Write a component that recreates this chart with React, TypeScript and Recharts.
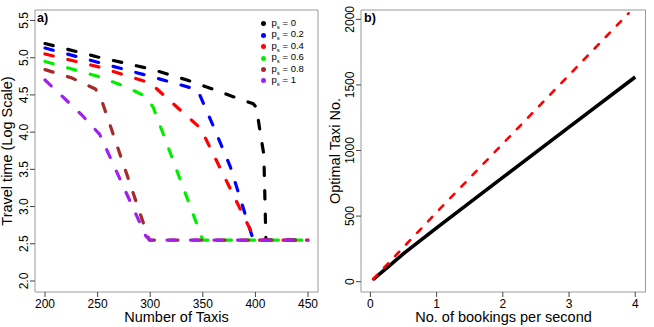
import { LineChart, Line, XAxis, YAxis, ReferenceArea } from 'recharts'

// panel a) travel time vs number of taxis, one series per p_s
const psLabels = ['0', '0.2', '0.4', '0.6', '0.8', '1']
const psColors = ['#000000', '#0000ff', '#ff0000', '#00ee00', '#a52a2a', '#a020f0']

const taxisP0 = [200, 250, 300, 335, 357, 380, 398, 401, 404, 408, 410, 450]
const timeP0 = [5.19, 5.01, 4.85, 4.7, 4.59, 4.47, 4.38, 4.33, 4.05, 3.7, 2.55, 2.55]
const taxisP02 = [200, 250, 300, 345, 360, 376, 398, 450]
const timeP02 = [5.13, 4.94, 4.75, 4.57, 4.08, 3.54, 2.55, 2.55]
const taxisP04 = [200, 250, 300, 348, 400, 450]
const timeP04 = [5.05, 4.88, 4.66, 4.05, 2.55, 2.55]
const taxisP06 = [200, 250, 275, 296, 303, 350, 450]
const timeP06 = [4.95, 4.75, 4.62, 4.48, 4.33, 2.55, 2.55]
const taxisP08 = [200, 225, 248, 255, 299, 450]
const timeP08 = [4.84, 4.73, 4.58, 4.38, 2.55, 2.55]
const taxisP1 = [200, 218, 235, 252, 296, 300, 450]
const timeP1 = [4.7, 4.46, 4.23, 3.97, 2.6, 2.55, 2.55]

const taxiTicks = [200, 250, 300, 350, 400, 450]
const timeTicks = [2, 2.5, 3, 3.5, 4, 4.5, 5, 5.5]

// panel b) optimal taxi number vs bookings rate
const bookingRate = [0.04, 0.1, 0.25, 0.5, 1, 2, 3, 4]
const optimalTaxis = [15, 42, 105, 214, 410, 795, 1178, 1560]
const bookingRateAlt = [0.04, 1, 2, 3, 3.9]
const optimalTaxisAlt = [18, 529, 1052, 1575, 2046]

const rateTicks = [0, 1, 2, 3, 4]
const taxiNoTicks = [0, 500, 1000, 1500, 2000]

const zip = (xs: number[], ys: number[]) => xs.map((x, i) => ({ x, y: ys[i] }))

const seriesA = [
  zip(taxisP0, timeP0),
  zip(taxisP02, timeP02),
  zip(taxisP04, timeP04),
  zip(taxisP06, timeP06),
  zip(taxisP08, timeP08),
  zip(taxisP1, timeP1),
]

const FONT = '"Liberation Sans", Arial, Helvetica, sans-serif'

const RotTick = (props: any) => {
  const { x, y, payload, fmt } = props
  return (
    <text x={x} y={y} transform={`rotate(-90 ${x} ${y})`} textAnchor="middle"
      fontSize={12} fill="#000" fontFamily={FONT}>
      {fmt(payload.value)}
    </text>
  )
}

// legend drawn outside the chart so it doesn't eat into the plot area
const PsLegend = () => (
  <div style={{ position: 'absolute', left: 260.5, top: 18.3, fontFamily: FONT, fontSize: 9.5, color: '#000', lineHeight: 1 }}>
    {psLabels.map((lab, i) => (
      <div key={lab} style={{ display: 'flex', alignItems: 'center', height: 11.4 }}>
        <div style={{ width: 5, height: 5, borderRadius: '50%', background: psColors[i], marginRight: 6 }} />
        <span>p<sub style={{ fontSize: 6 }}>s</sub> = {lab}</span>
      </div>
    ))}
  </div>
)

const tickLine = { stroke: '#444' }
const tickStyle = { fontSize: 12, fill: '#000', fontFamily: FONT }

export default function App() {
  return (
    <div style={{ position: 'absolute', left: 0, top: 0, width: 654, height: 327, background: '#fff' }}>
      <div style={{ position: 'absolute', left: 0, top: 0 }}>
        <LineChart width={330} height={327} margin={{ top: 10, right: 12, left: 0, bottom: 0 }}>
          <XAxis type="number" dataKey="x" domain={[190.5, 459.5]} ticks={taxiTicks} allowDataOverflow
            axisLine={false} tickLine={tickLine} tickSize={5} height={35} tick={tickStyle} />
          <YAxis type="number" dataKey="y" domain={[1.852, 5.641]} ticks={timeTicks} allowDataOverflow
            axisLine={false} tickLine={tickLine} tickSize={5} width={35}
            tick={<RotTick fmt={(v: number) => v.toFixed(1)} />} />
          <ReferenceArea x1={190.5} x2={459.5} y1={1.852} y2={5.641} fill="none" stroke="#999" ifOverflow="visible" />
          {seriesA.map((d, i) => (
            <Line key={psLabels[i]} data={d} dataKey="y" name={psLabels[i]} type="linear" stroke={psColors[i]}
              strokeWidth={3.2} strokeDasharray="8.5 15" strokeLinecap="round" strokeLinejoin="round"
              dot={false} isAnimationActive={false} />
          ))}
        </LineChart>
      </div>
      <PsLegend />
      <div style={{ position: 'absolute', left: 326, top: 0 }}>
        <LineChart width={328} height={327} margin={{ top: 10, right: 8.5, left: 0, bottom: 0 }}>
          <XAxis type="number" dataKey="x" domain={[-0.142, 4.155]} ticks={rateTicks} allowDataOverflow
            axisLine={false} tickLine={tickLine} tickSize={5} height={35} tick={tickStyle} />
          <YAxis type="number" dataKey="y" domain={[-78.5, 2071]} ticks={taxiNoTicks} allowDataOverflow
            axisLine={false} tickLine={tickLine} tickSize={5} width={35}
            tick={<RotTick fmt={(v: number) => String(v)} />} />
          <ReferenceArea x1={-0.142} x2={4.155} y1={-78.5} y2={2071} fill="none" stroke="#999" ifOverflow="visible" />
          <Line data={zip(bookingRate, optimalTaxis)} dataKey="y" type="linear" stroke="#000"
            strokeWidth={3.6} dot={false} isAnimationActive={false} />
          <Line data={zip(bookingRateAlt, optimalTaxisAlt)} dataKey="y" type="linear" stroke="#ff0000"
            strokeWidth={2.6} strokeDasharray="6 10" strokeLinecap="round" dot={false} isAnimationActive={false} />
        </LineChart>
      </div>
      <svg width={654} height={327} style={{ position: 'absolute', left: 0, top: 0, pointerEvents: 'none' }}
        fontFamily={FONT}>
        <text x={37} y={21.5} fontSize={12.5} fontWeight="bold">a)</text>
        <text x={364} y={21.5} fontSize={12.5} fontWeight="bold">b)</text>
        <text x={12} y={151} transform="rotate(-90 12 151)" textAnchor="middle" fontSize={14.5}>Travel time (Log Scale)</text>
        <text x={176.5} y={322} textAnchor="middle" fontSize={14.5}>Number of Taxis</text>
        <text x={340} y={151} transform="rotate(-90 340 151)" textAnchor="middle" fontSize={14.5}>Optimal Taxi No.</text>
        <text x={503.5} y={322} textAnchor="middle" fontSize={14.5}>No. of bookings per second</text>
      </svg>
    </div>
  )
}
